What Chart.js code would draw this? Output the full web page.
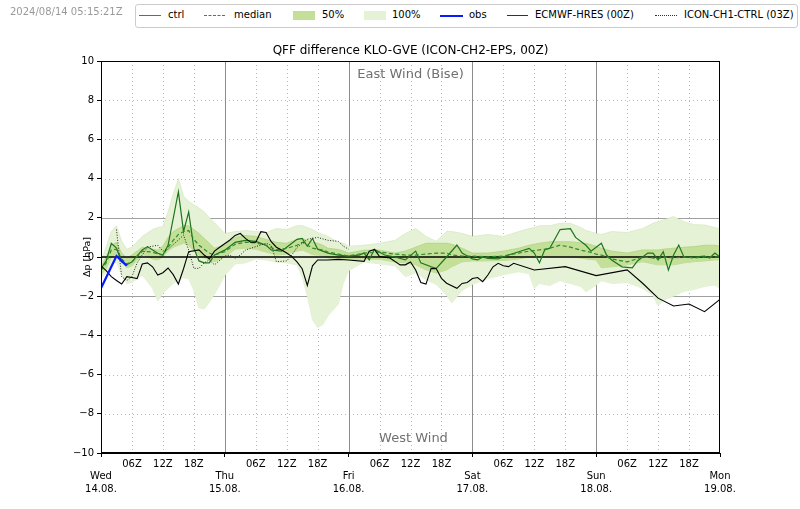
<!DOCTYPE html>
<html>
<head>
<meta charset="utf-8">
<script src="https://cdn.jsdelivr.net/npm/chart.js@4.4.1/dist/chart.umd.min.js"></script>
<style>
  body { margin: 0; background: #fff; font-family: "DejaVu Sans", sans-serif; }
  #wrap { position: relative; width: 800px; height: 509px; }
  #c { position: absolute; left: 0; top: 0; }
  .t { position: absolute; white-space: nowrap; line-height: 1; }
  #stamp { left: 10px; top: 7px; font-size: 10px; color: #999; }
  #legend { position: absolute; left: 135px; top: 4px; width: 661px; height: 22px; border: 1px solid #ccc; border-radius: 3px; background: #fff; }
  .lt { font-size: 10px; top: 10px; color: #000; }
  .ln { position: absolute; height: 0; top: 15px; }
  .bx { position: absolute; height: 9px; top: 11px; }
  #title { left: 101px; width: 619px; text-align: center; top: 44px; font-size: 12px; color: #000; }
  .wind { left: 101px; width: 619px; text-align: center; font-size: 13px; color: #707070; }
</style>
</head>
<body>
<div id="wrap">
  <canvas id="c" width="800" height="509"></canvas>
  <div class="t" id="stamp">2024/08/14 05:15:21Z</div>
  <div id="legend"></div>
  <div class="ln" style="left:139px;width:22px;border-top:1.5px solid #3a8a3a"></div>
  <div class="t lt" style="left:168px">ctrl</div>
  <div class="ln" style="left:204px;width:21px;border-top:1.3px dashed #3a8a3a"></div>
  <div class="t lt" style="left:234px">median</div>
  <div class="bx" style="left:293px;width:22px;background:#c4df98"></div>
  <div class="t lt" style="left:322px">50%</div>
  <div class="bx" style="left:364px;width:22px;background:#e6f2d6"></div>
  <div class="t lt" style="left:392px">100%</div>
  <div class="ln" style="left:440px;width:23px;border-top:2px solid #0a1aff"></div>
  <div class="t lt" style="left:469px">obs</div>
  <div class="ln" style="left:507px;width:21px;border-top:1.2px solid #333"></div>
  <div class="t lt" style="left:535px">ECMWF-HRES (00Z)</div>
  <div class="ln" style="left:655px;width:22px;border-top:1px dotted #333"></div>
  <div class="t lt" style="left:684px">ICON-CH1-CTRL (03Z)</div>
  <div class="t" id="title">QFF difference KLO-GVE (ICON-CH2-EPS, 00Z)</div>
  <div class="t wind" style="top:67px">East Wind (Bise)</div>
  <div class="t wind" style="top:431px;left:104px">West Wind</div>
</div>
<script>
const FONT = "DejaVu Sans";

// time axis: hours after Wed 14.08. 00Z
const dayNames = ["Wed", "Thu", "Fri", "Sat", "Sun", "Mon"];
const dayDates = ["14.08.", "15.08.", "16.08.", "17.08.", "18.08.", "19.08."];
const hourLabels = {6: "06Z", 12: "12Z", 18: "18Z"};

// ICON-CH2-EPS statistics [hPa]
const bandHours = [0,1,2,3,4,5,6,8,10,11,12,13,14,15,16,17,18,19,20,21,22,24,26,28,30,32,34,36,38,39,40,41,42,43,44,46,47,48,51,54,57,59,61,63,65,67,68,70,72,75,78,81,83,84,85,87,89,91,93,94,96,97,99,102,105,107,108,109,111,113,115,117,119,120];
const ensMax = [-0.2,0.5,1.3,1.6,0.8,0.4,0.5, 1.05,1.4,1.5,1.55,2.3,3.2,4.0,3.1,2.85,2.65,2.5,2.3,2.0,1.75, 1.2,1.3,1.35,1.3,1.25,1.45,1.4,1.6, 1.6,1.5,1.4,1.25,1.15,1.05, 0.75,0.7,0.55, 0.6,0.7,0.85,1.2,1.45,1.05,0.8,1.3,1.3,1.2,1.05, 1.15,1.05,1.3,1.45,1.5,1.6,1.6,1.72,1.72,1.5,1.35,1.2, 1.15,1.3,1.25,1.45,1.72,1.8,1.89,2.06,1.8,1.65,1.63,1.5,1.45];
const ensP75 = [-0.5,0.0,0.6,0.75,0.2,-0.05,0.1, 0.5,0.4,0.35,0.55,1.0,1.3,1.45,1.6,1.6,1.4,1.2,0.95,0.7,0.45, 0.6,1.0,1.1,1.05,0.9,0.75,0.7,0.9, 0.95,0.85,0.75,0.7,0.6,0.45, 0.38,0.3,0.2, 0.35,0.35,0.2,0.3,0.5,0.7,0.7,0.7,0.65,0.45,0.2, 0.2,0.3,0.45,0.6,0.65,0.7,0.78,0.78,0.78,0.72,0.7,0.55, 0.45,0.3,0.2,0.36,0.36,0.36,0.4,0.45,0.5,0.53,0.6,0.6,0.55];
const ensMedian = [-0.7,-0.3,0.35,0.4,-0.1,-0.35,-0.25, 0.3,0.25,0.15,0.1,0.5,0.85,1.15,1.3,1.35,0.9,0.6,0.4,0.2,0.1, 0.27,0.65,0.75,0.72,0.6,0.38,0.44,0.6, 0.75,0.6,0.45,0.4,0.36,0.25, 0.15,0.1,0.05, 0.2,0.25,0.15,0.1,0.1,0.15,0.2,0.2,0.1,0.05,0.05, 0.0,0.05,0.2,0.3,0.33,0.36,0.45,0.6,0.5,0.35,0.3,0.15, 0.1,-0.1,-0.25,0.0,-0.05,-0.1,0.0,-0.05,0.0,-0.05,0.0,0.0,0.0];
const ensP25 = [-0.9,-0.6,0.0,0.15,-0.3,-0.55,-0.45, 0.15,-0.1,-0.15,0.0,0.3,0.5,0.6,0.7,0.6,0.3,0.1,-0.05,-0.15,-0.24, 0.0,0.4,0.45,0.4,0.25,0.1,0.15,0.3, 0.35,0.25,0.12,0.1,0.05,-0.05, -0.07,-0.1,-0.15, -0.1,-0.12,-0.25,-0.3,-0.4,-0.65,-0.82,-0.66,-0.5,-0.25,-0.2, -0.2,-0.18,-0.1,0.0,0.0,0.0,0.0,0.0,0.0,-0.05,-0.1,-0.15, -0.55,-0.5,-0.4,-0.24,-0.35,-0.4,-0.4,-0.4,-0.3,-0.24,-0.2,-0.15,-0.15];
const ensMin = [-1.1,-0.8,-0.4,-0.25,-0.9,-1.35,-1.3, -0.92,-1.6,-2.25,-1.85,-1.6,-1.35,-1.2,-1.05,-1.1,-1.7,-2.6,-2.65,-2.3,-1.9, -0.95,-0.35,-0.3,-0.1,-0.15,-0.25,-0.3,-0.4, -1.0,-2.0,-3.2,-3.6,-3.45,-3.0, -2.4,-1.3,-0.7, -0.25,-0.35,-0.45,-1.0,-0.8,-1.15,-1.4,-1.95,-2.35,-1.7,-1.4, -1.1,-0.9,-0.75,-0.85,-1.6,-1.35,-1.45,-1.2,-1.35,-1.5,-1.77,-1.43, -1.2,-1.35,-1.3,-1.6,-1.95,-2.5,-2.2,-2.0,-1.75,-1.65,-1.5,-1.43,-1.6];

// control run
const ctrlHours = [0,1,2,3,4,5,6,8,9,11,12,13,15,16,17,18,19,20,21,22,24,26,28,30,32,33,35,36,38,39,40,41,42,44,46,48,50,51,52,53,55,57,59,61,62,64,65,67,69,70,72,73,74,75,77,79,81,83,84,85,86,87,89,91,92,94,95,97,98,99,101,103,104,106,107,108,109,110,111,112,113,115,117,118,119,120];
const ctrlValues = [-0.6,-0.2,0.7,0.45,-0.25,-0.4,-0.25,0.36,0.53,0.19,0.1,0.6,3.33,1.3,2.3,0.45,-0.2,-0.3,-0.3,0.1,0.35,0.75,0.85,0.8,0.6,0.36,0.3,0.5,0.9,0.95,0.55,0.95,0.4,0.2,0.1,0.05,0.1,0.2,-0.15,0.39,0.1,0.0,-0.15,0.3,-0.3,-0.5,-0.58,0.0,0.61,0.2,-0.1,-0.15,0.0,-0.07,-0.1,0.1,0.27,0.44,0.2,-0.3,0.36,0.45,1.4,1.45,1.0,0.6,0.3,0.7,0.1,-0.15,-0.5,-0.55,-0.2,0.2,0.2,-0.15,0.27,-0.66,0.1,0.61,0.0,0.0,0.05,-0.05,0.2,0.0];

// observations
const obsHours = [0,1,2,3,4,5];
const obsValues = [-1.6,-1.05,-0.5,0.05,-0.2,-0.45];

// ECMWF-HRES 00Z
const ecmwfHours = [0,1,2,3,4,5,6,7,8,9,10,11,12,13,14,15,16,17,19,20,21,22,23,25,26,27,28,29,30,31,32,33,34,35,36,37,38,39,40,41,42,44,46,48,51,52,53,54,56,58,59,60,61,62,63,64,65,66,67,69,70,71,72,73,74,75,76,77,78,79,80,84,90,96,102,105,108,111,114,117,120];
const ecmwfValues = [-0.45,-0.7,-1.0,-1.2,-1.38,-1.0,-1.05,-1.1,-0.36,-0.3,-0.5,-0.92,-0.8,-0.56,-0.9,-1.38,-0.6,0.27,0.36,0.1,-0.1,0.3,0.5,0.87,1.1,1.2,0.95,0.75,0.75,1.29,1.25,0.78,0.5,0.36,0.2,0.02,-0.25,-0.6,-1.45,-0.45,-0.15,-0.15,-0.12,-0.15,-0.22,0.3,0.39,0.02,-0.05,-0.4,-0.4,-0.25,-0.66,-1.3,-1.38,-0.58,-0.6,-1.09,-1.34,-1.6,-1.35,-1.3,-1.1,-1.05,-1.26,-0.92,-0.5,-0.32,-0.45,-0.49,-0.32,-0.66,-0.49,-0.95,-0.66,-1.34,-2.1,-2.5,-2.4,-2.79,-2.16];

// ICON-CH1-CTRL 03Z
const iconHours = [3,4,5,6,7,8,9,11,12,13,15,16,17,18,19,20,21,22,24,25,26,27,28,30,32,33,34,36,37,38,40,42,44,46,47,48];
const iconValues = [1.4,-1.0,-1.2,-1.0,-0.3,0.1,0.5,0.6,0.3,0.4,0.87,1.12,0.36,-0.58,-0.58,-0.3,-0.15,-0.4,0.05,0.1,-0.07,0.1,0.35,0.53,0.7,0.6,-0.24,-0.2,0.1,0.5,0.9,1.0,0.85,0.8,0.55,0.4];

const pts = (hs, vs) => hs.map((h, i) => ({x: h, y: vs[i]}));
const line = (label, data, color, width, dash) =>
  ({label, data, borderColor: color, borderWidth: width, borderDash: dash || [], pointRadius: 0, fill: false, tension: 0});

// index 0 is drawn on top
const datasets = [
  line("obs", pts(obsHours, obsValues), "#0a1aff", 2.2),
  line("ECMWF-HRES (00Z)", pts(ecmwfHours, ecmwfValues), "#000", 1.1),
  line("ICON-CH1-CTRL (03Z)", pts(iconHours, iconValues), "#222", 1, [1, 1.6]),
  line("median", pts(bandHours, ensMedian), "#2e8b2e", 1.2, [4, 2.5]),
  line("ctrl", pts(ctrlHours, ctrlValues), "#1d741d", 1.2),
  {label: "p75", data: pts(bandHours, ensP75), borderColor: "#a9d07c", borderWidth: 0.7, pointRadius: 0,
   fill: "+1", backgroundColor: "#c4df98", tension: 0},
  {label: "p25", data: pts(bandHours, ensP25), borderColor: "#a9d07c", borderWidth: 0.7, pointRadius: 0, fill: false, tension: 0},
  {label: "max", data: pts(bandHours, ensMax), borderColor: "#d3e8bd", borderWidth: 0.7, pointRadius: 0,
   fill: "+1", backgroundColor: "#e6f2d6", tension: 0},
  {label: "min", data: pts(bandHours, ensMin), borderColor: "#d3e8bd", borderWidth: 0.7, pointRadius: 0, fill: false, tension: 0},
];
const CTRL_INDEX = 4;

const gridPlugin = {
  id: "mplgrid",
  beforeDatasetsDraw(chart) {
    const {ctx, chartArea: a, scales: {x, y}} = chart;
    ctx.save();
    ctx.lineWidth = 1;
    y.ticks.forEach(t => {
      if (t.value === 0 || Math.abs(t.value) === 10) return;
      const py = Math.round(y.getPixelForValue(t.value)) + 0.5;
      const major = Math.abs(t.value) === 2;
      ctx.strokeStyle = major ? "#a0a0a0" : "#b8b8b8";
      ctx.setLineDash(major ? [] : [1, 3]);
      ctx.beginPath(); ctx.moveTo(a.left, py); ctx.lineTo(a.right, py); ctx.stroke();
    });
    x.ticks.forEach(t => {
      if (t.value <= 0 || t.value >= 120) return;
      const px = Math.round(x.getPixelForValue(t.value)) + 0.5;
      const day = t.value % 24 === 0;
      ctx.strokeStyle = day ? "#8c8c8c" : "#b8b8b8";
      ctx.setLineDash(day ? [] : [1, 3]);
      ctx.beginPath(); ctx.moveTo(px, a.top); ctx.lineTo(px, a.bottom); ctx.stroke();
    });
    ctx.restore();
  },
  beforeDatasetDraw(chart, args) {
    if (args.index !== CTRL_INDEX) return;
    const {ctx, chartArea: a, scales: {y}} = chart;
    const py = y.getPixelForValue(0);
    ctx.save();
    ctx.strokeStyle = "#000"; ctx.lineWidth = 1.6;
    ctx.beginPath(); ctx.moveTo(a.left, py); ctx.lineTo(a.right, py); ctx.stroke();
    ctx.restore();
  },
  afterDatasetsDraw(chart) {
    const {ctx, chartArea: a} = chart;
    ctx.save();
    ctx.strokeStyle = "#000"; ctx.lineWidth = 1;
    ctx.strokeRect(Math.round(a.left) + 0.5, Math.round(a.top) + 0.5,
                   Math.round(a.right - a.left) - 1, Math.round(a.bottom - a.top) - 1);
    ctx.restore();
  }
};

new Chart(document.getElementById("c"), {
  type: "line",
  data: {datasets},
  options: {
    responsive: false, animation: false, events: [],
    layout: {padding: {left: 60, right: 80, top: 61, bottom: 0}},
    plugins: {legend: {display: false}, tooltip: {enabled: false}, title: {display: false}},
    scales: {
      x: {
        type: "linear", min: 0, max: 120,
        afterFit: s => { s.height = 56; },
        border: {display: true, color: "#000", width: 1},
        grid: {drawOnChartArea: false, drawTicks: true, tickLength: 4,
               tickColor: c => (c.tick && c.tick.value % 24 === 0) ? "#000" : "rgba(0,0,0,0)"},
        ticks: {
          stepSize: 6, autoSkip: false, maxRotation: 0, padding: 1, color: "#000",
          font: {family: FONT, size: 10, lineHeight: 1.25},
          callback: v => v % 24 === 0 ? ["", dayNames[v / 24], dayDates[v / 24]] : hourLabels[v % 24]
        }
      },
      y: {
        min: -10, max: 10,
        afterFit: s => { s.width = 41; },
        border: {display: true, color: "#000", width: 1},
        grid: {drawOnChartArea: false, drawTicks: true, tickLength: 4, tickColor: "#000"},
        title: {display: true, text: "Δp [hPa]", color: "#000", padding: {top: 22, bottom: 0},
                font: {family: FONT, size: 9.5}},
        ticks: {
          stepSize: 2, padding: 3, color: "#000",
          font: {family: FONT, size: 10},
          callback: v => v < 0 ? "\u2212" + Math.abs(v) : String(v)
        }
      }
    }
  },
  plugins: [gridPlugin]
});
</script>
</body>
</html>
